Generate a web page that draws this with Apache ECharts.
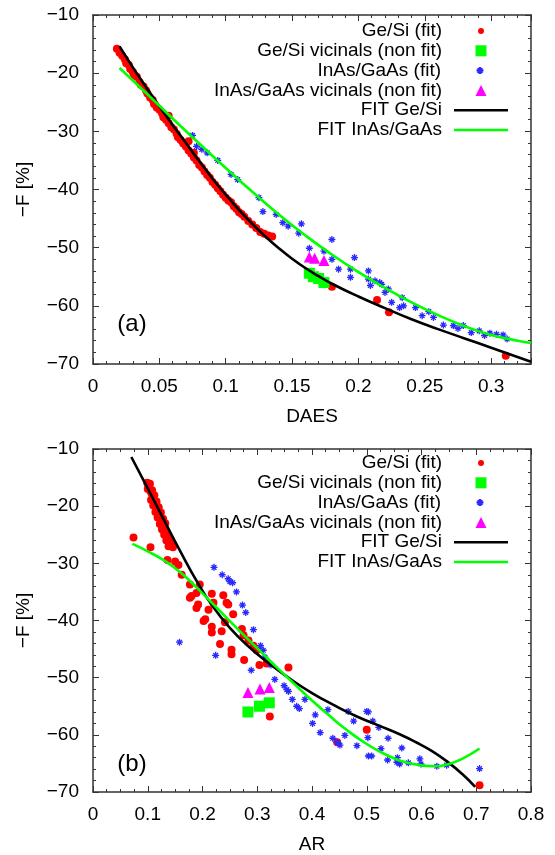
<!DOCTYPE html>
<html><head><meta charset="utf-8">
<script src="https://cdn.jsdelivr.net/npm/echarts@6/dist/echarts.min.js"></script>
<style>html,body{margin:0;padding:0;background:#fff}#c{width:555px;height:855px}</style>
</head><body><div id="c"></div>
<script>
// ---------- DATA ----------
const legendNames = ['Ge/Si (fit)', 'Ge/Si vicinals (non fit)', 'InAs/GaAs (fit)', 'InAs/GaAs vicinals (non fit)', 'FIT Ge/Si', 'FIT InAs/GaAs'];
const panelLabels = ['(a)', '(b)'];
const xNames = ['DAES', 'AR'];
const yName = '\u2212F [%]';

// Panel (a): DAES vs -F
const aGeSiFit = [[0.018,-15.8],[0.020,-16.5],[0.022,-17.0],[0.024,-17.6],[0.025,-18.3],[0.027,-18.6],[0.028,-19.3],[0.030,-19.8],[0.031,-20.4],[0.033,-20.6],[0.035,-21.5],[0.036,-22.0],[0.038,-22.3],[0.040,-23.0],[0.041,-23.5],[0.043,-24.2],[0.045,-24.6],[0.046,-25.3],[0.048,-25.9],[0.050,-26.3],[0.052,-26.9],[0.053,-27.6],[0.055,-28.0],[0.057,-27.3],[0.057,-28.6],[0.059,-29.3],[0.061,-29.7],[0.063,-30.4],[0.064,-31.0],[0.066,-31.5],[0.068,-32.1],[0.070,-32.6],[0.072,-31.7],[0.072,-33.3],[0.074,-33.8],[0.076,-33.7],[0.076,-34.5],[0.078,-35.0],[0.080,-35.8],[0.082,-36.2],[0.084,-36.9],[0.086,-37.5],[0.088,-38.0],[0.090,-38.7],[0.092,-39.2],[0.094,-39.8],[0.096,-40.3],[0.098,-40.9],[0.100,-41.4],[0.102,-41.9],[0.104,-42.2],[0.106,-42.9],[0.108,-43.3],[0.110,-43.9],[0.112,-44.2],[0.114,-44.7],[0.117,-45.4],[0.120,-46.0],[0.123,-46.6],[0.126,-47.3],[0.129,-47.6],[0.132,-47.9],[0.135,-48.1],[0.180,-56.7],[0.214,-59.0],[0.223,-61.1],[0.311,-68.6]];
const aGeSiVic = [[0.163,-54.4],[0.166,-55.0],[0.170,-55.3],[0.174,-56.0]];
const aInAsFit = [[0.075,-30.7],[0.078,-32.6],[0.082,-33.1],[0.086,-33.7],[0.094,-35.0],[0.104,-37.4],[0.109,-38.3],[0.125,-41.4],[0.128,-43.8],[0.138,-44.3],[0.143,-45.7],[0.147,-46.3],[0.157,-45.9],[0.155,-47.5],[0.163,-50.1],[0.174,-50.6],[0.180,-48.6],[0.180,-52.0],[0.185,-53.7],[0.194,-53.7],[0.194,-55.1],[0.197,-51.7],[0.2075,-54.0],[0.2075,-55.4],[0.209,-56.5],[0.2125,-55.7],[0.216,-56.0],[0.2175,-56.3],[0.220,-57.7],[0.2225,-57.1],[0.225,-59.4],[0.231,-60.3],[0.233,-58.6],[0.234,-60.0],[0.243,-60.3],[0.248,-61.7],[0.253,-61.0],[0.2565,-62.0],[0.264,-63.3],[0.2715,-63.4],[0.275,-63.9],[0.279,-63.4],[0.285,-64.6],[0.291,-64.3],[0.295,-65.1],[0.299,-64.7],[0.304,-64.9],[0.309,-65.0],[0.312,-65.7]];
const aInAsVic = [[0.163,-51.6],[0.167,-51.8],[0.174,-52.2]];
const aFitGeSi = [[0.020,-15.4],[0.030,-19.0],[0.040,-22.4],[0.050,-25.7],[0.060,-28.9],[0.070,-32.0],[0.080,-35.1],[0.090,-38.1],[0.100,-40.9],[0.110,-43.5],[0.120,-45.9],[0.130,-48.1],[0.140,-50.1],[0.150,-51.9],[0.160,-53.5],[0.170,-54.9],[0.180,-56.2],[0.200,-58.4],[0.220,-60.4],[0.240,-62.3],[0.260,-64.0],[0.280,-65.6],[0.300,-67.2],[0.330,-69.6]];
const aFitInAs = [[0.020,-19.1],[0.040,-23.4],[0.060,-27.8],[0.080,-32.1],[0.100,-36.3],[0.120,-40.4],[0.140,-44.3],[0.160,-47.9],[0.180,-51.2],[0.200,-54.2],[0.220,-56.9],[0.240,-59.4],[0.260,-61.6],[0.280,-63.5],[0.300,-65.0],[0.320,-66.0],[0.330,-66.4]];

// Panel (b): AR vs -F
const bGeSiFit = [[0.099,-15.9],[0.101,-16.3],[0.103,-16.9],[0.105,-17.4],[0.107,-17.8],[0.109,-18.4],[0.111,-18.9],[0.113,-19.3],[0.115,-19.8],[0.117,-20.3],[0.119,-20.9],[0.121,-21.3],[0.123,-21.8],[0.125,-22.4],[0.127,-22.8],[0.129,-23.3],[0.131,-23.9],[0.133,-24.3],[0.135,-24.8],[0.137,-25.3],[0.139,-25.8],[0.141,-26.2],[0.143,-26.7],[0.146,-27.2],[0.104,-16.1],[0.108,-17.2],[0.112,-18.1],[0.116,-19.2],[0.120,-20.2],[0.124,-21.1],[0.128,-22.2],[0.132,-23.0],[0.100,-17.0],[0.106,-18.9],[0.110,-19.9],[0.114,-21.0],[0.118,-22.0],[0.122,-23.1],[0.126,-24.1],[0.130,-25.0],[0.134,-26.0],[0.138,-27.0],[0.074,-25.5],[0.105,-27.2],[0.136,-29.4],[0.150,-29.7],[0.156,-30.3],[0.162,-32.0],[0.177,-33.7],[0.189,-35.2],[0.195,-33.7],[0.180,-35.7],[0.217,-35.3],[0.238,-35.6],[0.192,-37.2],[0.220,-36.9],[0.244,-36.9],[0.177,-36.0],[0.189,-37.8],[0.211,-38.1],[0.205,-39.8],[0.202,-40.1],[0.217,-41.1],[0.217,-42.1],[0.235,-41.9],[0.232,-44.1],[0.253,-45.1],[0.253,-45.9],[0.241,-40.3],[0.247,-37.2],[0.256,-38.9],[0.272,-41.5],[0.275,-42.6],[0.284,-43.5],[0.293,-44.4],[0.299,-45.2],[0.276,-46.9],[0.304,-47.8],[0.317,-47.5],[0.357,-48.2],[0.323,-56.8],[0.446,-61.3],[0.500,-59.1],[0.706,-68.8]];
const bGeSiVic = [[0.283,-56.0],[0.304,-55.0],[0.322,-54.4]];
const bInAsFit = [[0.158,-43.8],[0.221,-30.7],[0.236,-32.0],[0.247,-32.7],[0.250,-33.2],[0.255,-33.4],[0.262,-35.0],[0.273,-37.3],[0.279,-38.6],[0.224,-46.1],[0.293,-41.6],[0.306,-44.4],[0.311,-45.2],[0.314,-46.4],[0.325,-47.8],[0.289,-48.7],[0.332,-50.3],[0.349,-51.4],[0.354,-52.1],[0.357,-52.4],[0.364,-53.8],[0.372,-55.0],[0.377,-55.4],[0.387,-53.8],[0.406,-56.5],[0.401,-58.0],[0.415,-59.6],[0.429,-55.6],[0.438,-60.6],[0.446,-61.3],[0.451,-61.8],[0.460,-60.1],[0.466,-55.9],[0.476,-57.6],[0.482,-61.9],[0.500,-55.9],[0.503,-56.0],[0.502,-60.5],[0.503,-63.7],[0.509,-63.7],[0.511,-57.6],[0.522,-58.7],[0.526,-62.4],[0.539,-60.6],[0.538,-64.4],[0.556,-64.0],[0.555,-64.8],[0.560,-65.1],[0.564,-62.3],[0.576,-64.9],[0.597,-64.2],[0.599,-65.1],[0.628,-65.5],[0.646,-65.3],[0.706,-65.9]];
const bInAsVic = [[0.283,-52.6],[0.305,-52.0],[0.322,-51.7]];
const bFitGeSi = [[0.070,-11.4],[0.100,-16.9],[0.130,-22.5],[0.160,-28.0],[0.190,-33.2],[0.220,-37.7],[0.250,-41.3],[0.280,-44.2],[0.320,-47.4],[0.360,-50.2],[0.400,-52.7],[0.440,-54.8],[0.480,-56.7],[0.520,-58.3],[0.560,-59.9],[0.590,-61.3],[0.620,-62.9],[0.650,-64.9],[0.675,-66.9],[0.698,-69.1]];
const bFitInAs = [[0.072,-26.6],[0.100,-27.9],[0.130,-29.5],[0.160,-31.6],[0.190,-34.3],[0.220,-37.2],[0.250,-40.1],[0.280,-43.0],[0.310,-45.8],[0.340,-48.6],[0.370,-51.3],[0.400,-54.0],[0.430,-56.5],[0.460,-58.9],[0.500,-61.6],[0.540,-63.7],[0.580,-65.0],[0.620,-65.5],[0.650,-65.1],[0.680,-63.9],[0.706,-62.4]];

// ---------- STYLE ----------
const FONT = '"Liberation Sans", Arial, Helvetica, sans-serif';
const AXC = '#333';
const starPath = 'path://M5,0L5,10M0,5L10,5M1.6,1.6L8.4,8.4M8.4,1.6L1.6,8.4';
const grids = [
  {left: 93, top: 15, width: 438, height: 349},
  {left: 93, top: 449, width: 438, height: 348}
];
const xSpec = [{min: 0, max: 0.33, interval: 0.05, minor: 5, step: 0.05},
               {min: 0, max: 0.8, interval: 0.1, minor: 4, step: 0.1}];

function fmtX(step) {
  return function (v) {
    const k = Math.round(v / step);
    if (Math.abs(k * step - v) > 1e-9) return '';
    return String(+(k * step).toFixed(2));
  };
}
function fmtY(v) { return String(v).replace('-', '\u2212'); }

const tickCommon = {show: true, inside: true, length: 6, lineStyle: {color: AXC, width: 1}};
const minorCommon = (n) => ({show: true, splitNumber: n, length: 3, lineStyle: {color: AXC, width: 1}});
const lineCommon = {show: true, onZero: false, lineStyle: {color: AXC, width: 1.5}};
const labelStyle = {fontFamily: FONT, fontSize: 19, color: '#000'};

const xAxis = [], yAxis = [];
grids.forEach((g, gi) => {
  const s = xSpec[gi];
  ['bottom', 'top'].forEach(pos => {
    xAxis.push({
      type: 'value', gridIndex: gi, position: pos, min: s.min, max: s.max, interval: s.interval,
      axisLine: lineCommon, axisTick: tickCommon, minorTick: minorCommon(s.minor),
      splitLine: {show: false}, minorSplitLine: {show: false},
      axisLabel: pos === 'bottom' ? Object.assign({show: true, margin: 13, formatter: fmtX(s.step)}, labelStyle) : {show: false},
      name: pos === 'bottom' ? xNames[gi] : '', nameLocation: 'middle', nameGap: 43,
      nameTextStyle: labelStyle
    });
  });
  ['left', 'right'].forEach(pos => {
    yAxis.push({
      type: 'value', gridIndex: gi, position: pos, min: -70, max: -10, interval: 10,
      axisLine: lineCommon, axisTick: tickCommon, minorTick: minorCommon(5),
      splitLine: {show: false}, minorSplitLine: {show: false},
      axisLabel: pos === 'left' ? Object.assign({show: true, margin: 14, formatter: fmtY}, labelStyle) : {show: false},
      name: pos === 'left' ? yName : '', nameLocation: 'middle', nameGap: 60,
      nameTextStyle: labelStyle
    });
  });
});

function scatter(name, data, gi, symbol, size, color, border) {
  return {
    type: 'scatter', name: name, data: data, xAxisIndex: gi * 2, yAxisIndex: gi * 2,
    symbol: symbol, symbolSize: size,
    itemStyle: border ? {color: color, borderColor: color, borderWidth: 1.3, opacity: 1} : {color: color, opacity: 1},
    emphasis: {disabled: true}
  };
}
function fitLine(name, data, gi, color) {
  return {
    type: 'line', name: name, data: data, xAxisIndex: gi * 2, yAxisIndex: gi * 2,
    symbol: 'none', showSymbol: false, smooth: true,
    lineStyle: {color: color, width: 2.6}, itemStyle: {color: color},
    emphasis: {disabled: true}
  };
}

const panelData = [
  [aGeSiFit, aGeSiVic, aInAsFit, aInAsVic, aFitGeSi, aFitInAs],
  [bGeSiFit, bGeSiVic, bInAsFit, bInAsVic, bFitGeSi, bFitInAs]
];
const series = [];
panelData.forEach((d, gi) => {
  series.push(scatter(legendNames[0], d[0], gi, 'circle', 8, '#ff0000'));
  series.push(scatter(legendNames[1], d[1], gi, 'rect', 11, '#00ff00'));
  series.push(scatter(legendNames[2], d[2], gi, starPath, 7, '#2a2aff', true));
  series.push(scatter(legendNames[3], d[3], gi, 'triangle', 11, '#ff00ff'));
  series.push(fitLine(legendNames[4], d[4], gi, '#000000'));
  series.push(fitLine(legendNames[5], d[5], gi, '#00ff00'));
});

// legend layout: icon box centred at x=481, text ends at x=442
const legendRowTop = [31, 463];
const iconW = [6, 11, 7, 11, 54, 54];
const iconH = [6, 11, 7, 11, 2.6, 2.6];
const iconKind = [null, null, null, null, 'rect', 'rect'];
const legend = [];
legendRowTop.forEach(rt => {
  legendNames.forEach((n, i) => {
    const w = iconW[i];
    const iconLeft = 481 - w / 2;
    legend.push({
      data: [iconKind[i] ? {name: n, icon: iconKind[i]} : n],
      right: 555 - (481 + w / 2), top: rt + i * 19.8 - 10, align: 'right', orient: 'horizontal',
      padding: 0, itemWidth: w, itemHeight: iconH[i], selectedMode: false,
      textStyle: {fontFamily: FONT, fontSize: 19, color: '#000', lineHeight: 20,
                  padding: [0, Math.max(0, iconLeft - 5 - 442), 0, 0]}
    });
  });
});

const chart = echarts.init(document.getElementById('c'), null, {renderer: 'canvas'});
chart.setOption({
  animation: false,
  backgroundColor: '#fff',
  grid: grids,
  xAxis: xAxis,
  yAxis: yAxis,
  legend: legend,
  series: series,
  graphic: [
    {type: 'text', x: 132, y: 324, style: {text: panelLabels[0], fontFamily: FONT, fontSize: 24, fill: '#000', align: 'center', verticalAlign: 'middle'}},
    {type: 'text', x: 132, y: 764, style: {text: panelLabels[1], fontFamily: FONT, fontSize: 24, fill: '#000', align: 'center', verticalAlign: 'middle'}}
  ]
});
</script>
</body></html>
